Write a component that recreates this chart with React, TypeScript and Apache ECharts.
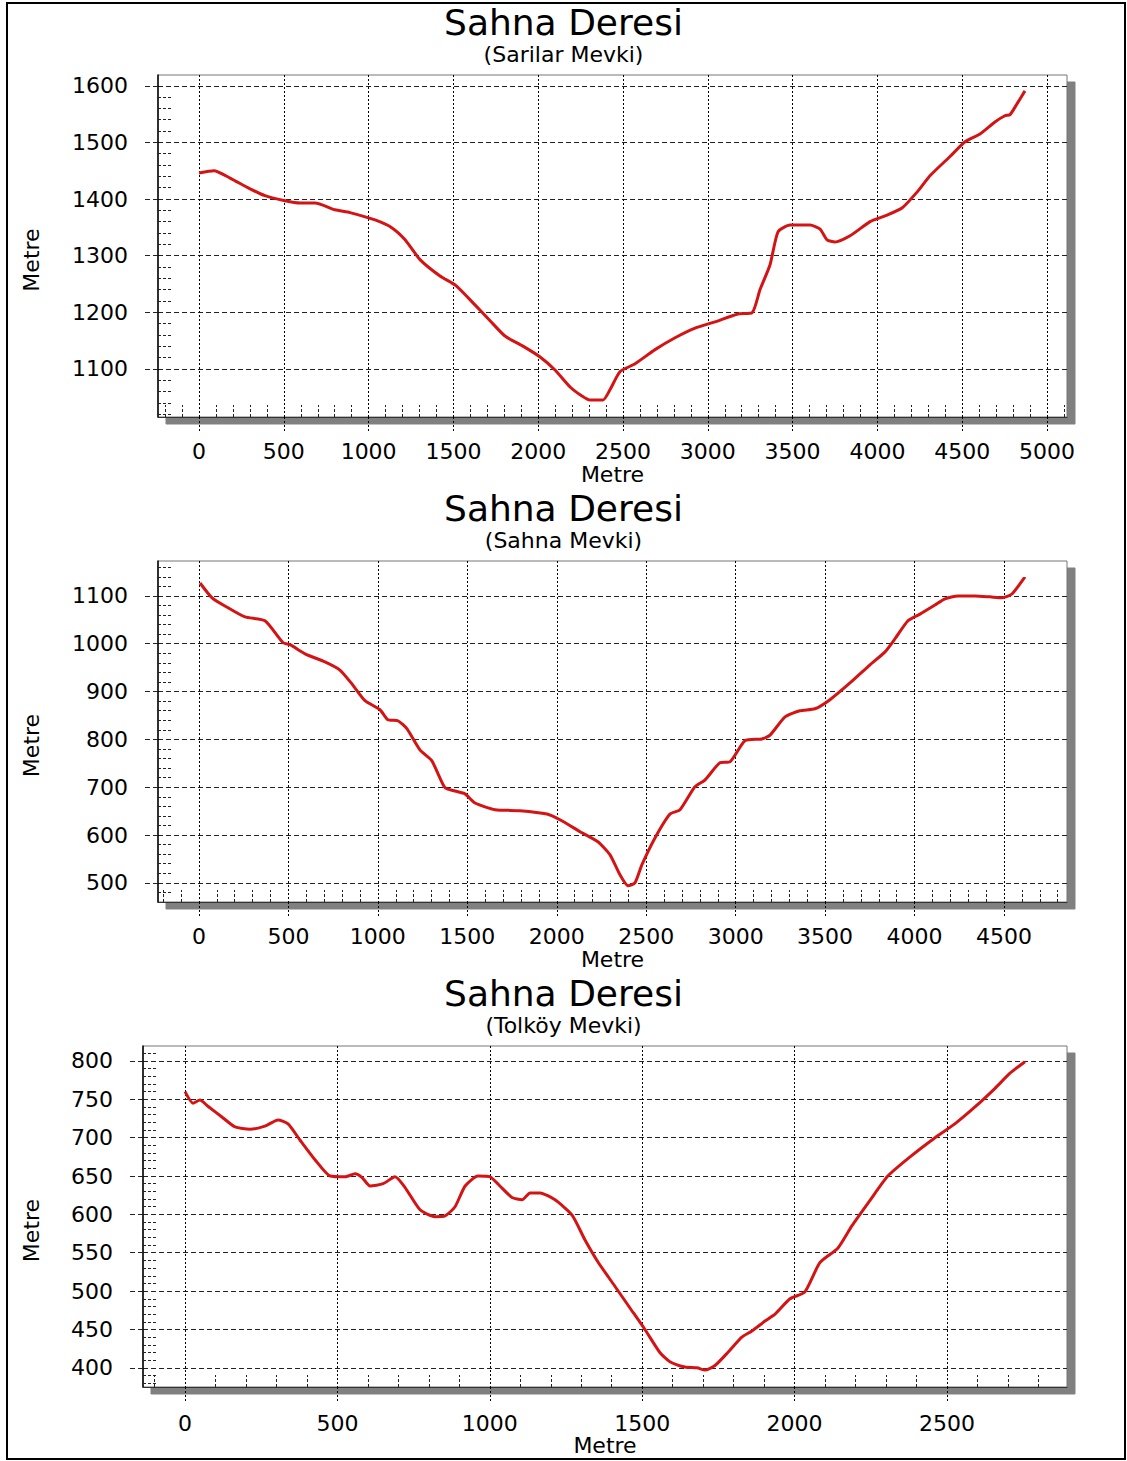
import React, { useEffect, useRef } from "react";
import * as echarts from "echarts";

// ---------- data ----------
const chartTitles = ["Sahna Deresi", "Sahna Deresi", "Sahna Deresi"];
const chartSubtitles = ["(Sarilar Mevki)", "(Sahna Mevki)", "(Tolköy Mevki)"];
const axisTitle = "Metre";

// Profile 1 – Sarilar Mevki
const dist1 = [0, 88, 183, 301, 389, 507, 596, 684, 802, 890, 1038, 1138, 1215, 1303, 1421, 1515, 1627, 1716, 1804, 1905, 2011, 2099, 2188, 2258, 2305, 2382, 2423, 2482, 2571, 2689, 2807, 2925, 3042, 3178, 3261, 3308, 3367, 3414, 3485, 3603, 3662, 3703, 3750, 3839, 3957, 4045, 4145, 4239, 4310, 4428, 4517, 4605, 4693, 4752, 4782, 4823, 4870];
const elev1 = [1446, 1450, 1437, 1418, 1406, 1397, 1393, 1393, 1381, 1376, 1363, 1349, 1328, 1293, 1264, 1247, 1213, 1185, 1158, 1141, 1121, 1098, 1068, 1052, 1045, 1045, 1063, 1095, 1109, 1134, 1155, 1172, 1183, 1197, 1199, 1240, 1284, 1342, 1354, 1354, 1347, 1328, 1324, 1335, 1360, 1370, 1384, 1414, 1441, 1475, 1501, 1515, 1536, 1547, 1549, 1568, 1591];

// Profile 2 – Sahna Mevki
const dist2 = [6, 73, 145, 257, 369, 470, 509, 593, 704, 788, 855, 928, 1012, 1056, 1112, 1163, 1235, 1302, 1375, 1431, 1487, 1543, 1655, 1794, 1945, 2018, 2130, 2230, 2297, 2353, 2398, 2437, 2476, 2549, 2633, 2689, 2772, 2828, 2912, 2968, 3052, 3147, 3192, 3276, 3359, 3443, 3527, 3639, 3751, 3835, 3890, 3963, 4030, 4114, 4170, 4243, 4338, 4421, 4489, 4544, 4617];
const elev2 = [1127, 1096, 1079, 1056, 1048, 1002, 998, 979, 962, 945, 916, 881, 862, 841, 839, 822, 778, 755, 699, 692, 686, 667, 653, 651, 644, 632, 607, 586, 559, 517, 494, 500, 538, 594, 644, 653, 701, 715, 751, 753, 797, 801, 809, 847, 860, 864, 883, 918, 956, 983, 1010, 1048, 1062, 1081, 1094, 1100, 1100, 1098, 1096, 1104, 1140];

// Profile 3 – Tolköy Mevki
const dist3 = [0, 26, 49, 75, 121, 164, 213, 262, 305, 338, 377, 427, 476, 525, 558, 581, 607, 650, 689, 722, 771, 820, 853, 886, 919, 961, 1001, 1033, 1073, 1106, 1132, 1165, 1214, 1270, 1312, 1355, 1411, 1460, 1509, 1558, 1591, 1640, 1680, 1706, 1739, 1781, 1827, 1860, 1903, 1936, 1985, 2034, 2083, 2142, 2188, 2247, 2306, 2379, 2461, 2526, 2592, 2657, 2707, 2756];
const elev3 = [760, 745, 749, 741, 727, 714, 711, 715, 723, 718, 697, 671, 650, 649, 653, 648, 637, 640, 649, 635, 606, 597, 598, 610, 637, 650, 649, 637, 622, 619, 628, 628, 619, 599, 567, 538, 506, 478, 450, 420, 408, 401, 400, 397, 403, 420, 440, 448, 461, 470, 490, 499, 537, 556, 585, 618, 650, 675, 700, 718, 740, 764, 784, 799];

// Tick labels
const xTicks1 = [0, 500, 1000, 1500, 2000, 2500, 3000, 3500, 4000, 4500, 5000];
const yTicks1 = [1100, 1200, 1300, 1400, 1500, 1600];
const xTicks2 = [0, 500, 1000, 1500, 2000, 2500, 3000, 3500, 4000, 4500];
const yTicks2 = [500, 600, 700, 800, 900, 1000, 1100];
const xTicks3 = [0, 500, 1000, 1500, 2000, 2500];
const yTicks3 = [400, 450, 500, 550, 600, 650, 700, 750, 800];

// ---------- layout ----------
const FONT = '"DejaVu Sans", Verdana, sans-serif';
const W = 1127;
const H = 1461;

const panels = [
  { dist: dist1, elev: elev1, xTicks: xTicks1, yTicks: yTicks1, xMin: -242, xMax: 5118, yMin: 1015, yMax: 1619, xStep: 500, yStep: 100,
    grid: { left: 158, top: 75, width: 909, height: 342 }, titleTop: 4, labelMargin: 23, nameGap: 46, yNameGap: 116 },
  { dist: dist2, elev: elev2, xTicks: xTicks2, yTicks: yTicks2, xMin: -229, xMax: 4852, yMin: 460, yMax: 1173, xStep: 500, yStep: 100,
    grid: { left: 158, top: 561, width: 909, height: 341 }, titleTop: 490, labelMargin: 23, nameGap: 46, yNameGap: 116 },
  { dist: dist3, elev: elev3, xTicks: xTicks3, yTicks: yTicks3, xMin: -138, xMax: 2894, yMin: 375, yMax: 819.5, xStep: 500, yStep: 50,
    grid: { left: 143, top: 1046, width: 924, height: 341 }, titleTop: 975, labelMargin: 25, nameGap: 47, yNameGap: 101 },
];

function buildOption() {
  const grids: any[] = [];
  const xAxes: any[] = [];
  const yAxes: any[] = [];
  const series: any[] = [];
  const titles: any[] = [];

  panels.forEach((p, i) => {
    grids.push({
      ...p.grid,
      show: true,
      backgroundColor: "#ffffff",
      borderColor: "#777777",
      borderWidth: 1,
      shadowColor: "#808080",
      shadowBlur: 0,
      shadowOffsetX: 8,
      shadowOffsetY: 7,
      containLabel: false,
    });

    titles.push({
      text: chartTitles[i],
      subtext: chartSubtitles[i],
      left: "center",
      top: p.titleTop,
      itemGap: 3,
      padding: 0,
      textStyle: { fontFamily: FONT, fontSize: 36, fontWeight: "normal", color: "#000" },
      subtextStyle: { fontFamily: FONT, fontSize: 22, color: "#000" },
    });

    const fmt = (v: number) => String(v);

    // primary x
    xAxes.push({
      type: "value",
      gridIndex: i,
      position: "bottom",
      min: p.xMin,
      max: p.xMax,
      minInterval: p.xStep,
      maxInterval: p.xStep,
      splitNumber: 10,
      axisLine: { show: true, onZero: false, lineStyle: { color: "#333", width: 1 } },
      axisTick: { show: true, length: 16, customValues: p.xTicks, lineStyle: { color: "#000", type: [2, 2], width: 1 } },
      axisLabel: { customValues: p.xTicks, formatter: fmt, margin: p.labelMargin, fontSize: 22, fontFamily: FONT, color: "#000" },
      splitLine: { show: true, lineStyle: { color: "#000", type: [2, 2], width: 1 } },
      name: axisTitle,
      nameLocation: "middle",
      nameGap: p.nameGap,
      nameTextStyle: { fontFamily: FONT, fontSize: 22, color: "#000" },
    });
    // secondary x (inside minor ticks)
    xAxes.push({
      type: "value",
      gridIndex: i,
      position: "bottom",
      min: p.xMin,
      max: p.xMax,
      minInterval: p.xStep,
      maxInterval: p.xStep,
      splitNumber: 10,
      axisLine: { show: false, onZero: false },
      axisTick: { show: false, inside: true },
      axisLabel: { show: false },
      splitLine: { show: false },
      minorTick: { show: true, splitNumber: 5, length: 12, lineStyle: { color: "#222", type: [3, 2], width: 1 } },
    });

    // primary y
    yAxes.push({
      type: "value",
      gridIndex: i,
      position: "left",
      min: p.yMin,
      max: p.yMax,
      minInterval: p.yStep,
      maxInterval: p.yStep,
      splitNumber: 8,
      axisLine: { show: true, onZero: false, lineStyle: { color: "#000", width: 1.5 } },
      axisTick: { show: true, length: 14, customValues: p.yTicks, lineStyle: { color: "#222", type: [5, 3], width: 1 } },
      axisLabel: { customValues: p.yTicks, formatter: fmt, margin: 30, fontSize: 22, fontFamily: FONT, color: "#000" },
      splitLine: { show: true, lineStyle: { color: "#222", type: [5, 3], width: 1 } },
      name: axisTitle,
      nameLocation: "middle",
      nameGap: p.yNameGap,
      nameTextStyle: { fontFamily: FONT, fontSize: 22, color: "#000", padding: [0, 28, 0, 0] },
    });
    // secondary y (inside minor ticks)
    yAxes.push({
      type: "value",
      gridIndex: i,
      position: "left",
      min: p.yMin,
      max: p.yMax,
      minInterval: p.yStep,
      maxInterval: p.yStep,
      splitNumber: 8,
      axisLine: { show: false, onZero: false },
      axisTick: { show: false, inside: true },
      axisLabel: { show: false },
      splitLine: { show: false },
      minorTick: { show: true, splitNumber: 5, length: 15, lineStyle: { color: "#222", type: [3, 2], width: 1 } },
    });

    series.push({
      type: "line",
      xAxisIndex: 2 * i,
      yAxisIndex: 2 * i,
      data: p.dist.map((d, k) => [d, p.elev[k]]),
      showSymbol: false,
      symbol: "none",
      smooth: 0.2,
      lineStyle: { color: "#d41414", width: 3 },
      z: 5,
    });
  });

  return {
    animation: false,
    backgroundColor: "#ffffff",
    title: titles,
    grid: grids,
    xAxis: xAxes,
    yAxis: yAxes,
    series,
    graphic: [
      {
        type: "rect",
        shape: { x: 7, y: 3, width: 1118, height: 1456 },
        style: { fill: "none", stroke: "#000", lineWidth: 2 },
        silent: true,
        z: 100,
      },
    ],
  };
}

export default function App() {
  const ref = useRef<HTMLDivElement>(null);
  useEffect(() => {
    if (!ref.current) return;
    const chart = echarts.init(ref.current, undefined, { renderer: "svg" });
    chart.setOption(buildOption() as any);
    return () => chart.dispose();
  }, []);
  return (
    <div
      ref={ref}
      style={{ position: "absolute", left: 0, top: 0, width: W, height: H, background: "#fff" }}
    />
  );
}
